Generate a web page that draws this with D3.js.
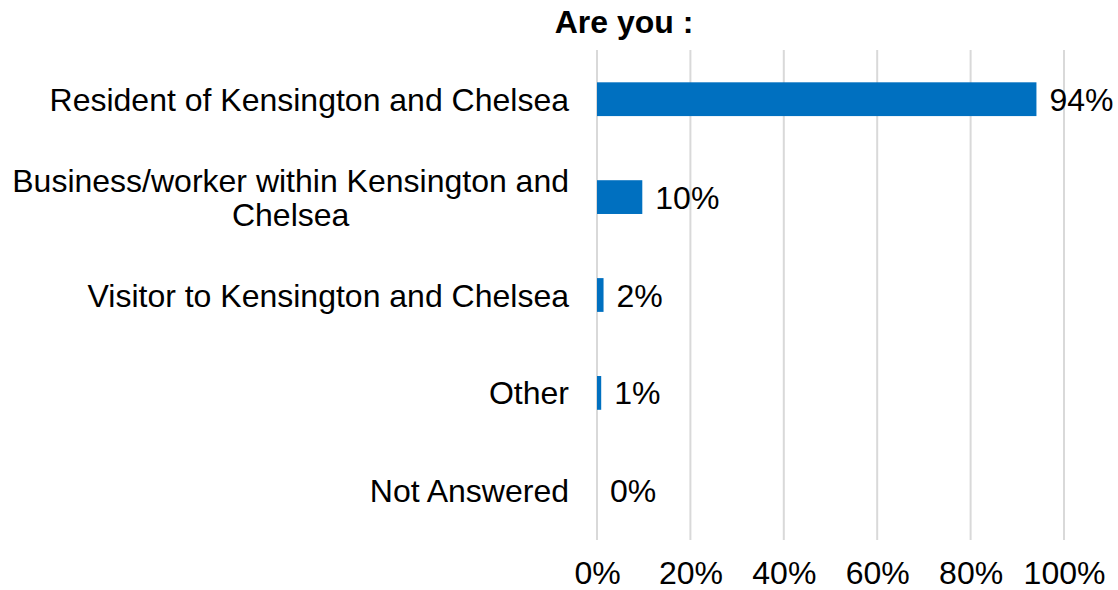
<!DOCTYPE html>
<html><head><meta charset="utf-8">
<script src="https://cdn.jsdelivr.net/npm/d3@7"></script>
<style>body{margin:0;background:#fff}svg{display:block}text{font-family:"Liberation Sans",Arial,sans-serif;fill:#000}</style>
</head><body><svg id="c" width="1118" height="590"></svg>
<script>
const title = "Are you :";
const categories = [
  ["Resident of Kensington and Chelsea"],
  ["Business/worker within Kensington and", "Chelsea"],
  ["Visitor to Kensington and Chelsea"],
  ["Other"],
  ["Not Answered"]
];
const values = [94.1, 9.7, 1.4, 0.9, 0];
const valueLabels = ["94%", "10%", "2%", "1%", "0%"];
const ticks = [0, 20, 40, 60, 80, 100];
const tickLabels = ["0%", "20%", "40%", "60%", "80%", "100%"];

(function() {
const svg = d3.select("#c");
const mLeft = 597, mRight = 1064, mTop = 50, mBottom = 540;
const x = d3.scaleLinear().domain([0, 100]).range([mLeft, mRight]);
const y = d3.scaleBand().domain(d3.range(categories.length)).range([mTop, mBottom]).paddingInner(0.655).paddingOuter(0.33);
const fs = 32;

svg.append("g").selectAll("line").data(ticks).join("line")
  .attr("x1", d => x(d)).attr("x2", d => x(d)).attr("y1", mTop).attr("y2", mBottom)
  .attr("stroke", "#d9d9d9").attr("stroke-width", 2);

svg.append("g").selectAll("rect").data(values).join("rect")
  .attr("x", x(0)).attr("y", (d, i) => y(i)).attr("width", d => x(d) - x(0)).attr("height", y.bandwidth())
  .attr("fill", "#0070c0");

svg.append("g").selectAll("text").data(values).join("text")
  .attr("x", d => x(d) + 13).attr("y", (d, i) => y(i) + y.bandwidth() / 2).attr("dy", "0.36em")
  .attr("font-size", fs).text((d, i) => valueLabels[i]);

const cat = svg.append("g").selectAll("text").data(categories).join("text")
  .attr("text-anchor", "middle").attr("font-size", fs)
  .attr("transform", (d, i) => `translate(0,${y(i) + y.bandwidth() / 2})`);
cat.each(function(lines) {
  const t = d3.select(this);
  const n = lines.length, lh = 34;
  lines.forEach((l, j) => {
    t.append("tspan").attr("y", (j - (n - 1) / 2) * lh).attr("dy", "0.36em").text(l);
  });
});
cat.each(function() {
  const t = d3.select(this);
  let w = 0;
  t.selectAll("tspan").each(function() { w = Math.max(w, this.getComputedTextLength()); });
  t.selectAll("tspan").attr("x", 569 - w / 2);
});

const xAxis = d3.axisBottom(x).tickValues(ticks).tickFormat((d, i) => tickLabels[i]).tickSize(0).tickPadding(0);
const ga = svg.append("g").attr("transform", `translate(0,584)`).call(xAxis);
ga.select(".domain").remove();
ga.selectAll("text").attr("y", 0).attr("dy", 0).attr("font-size", fs)
  .attr("font-family", "Liberation Sans, Arial, sans-serif").attr("fill", "#000");

svg.append("text").attr("x", 624).attr("y", 33).attr("text-anchor", "middle")
  .attr("font-size", fs).attr("font-weight", "bold").text(title);
})();
</script></body></html>
